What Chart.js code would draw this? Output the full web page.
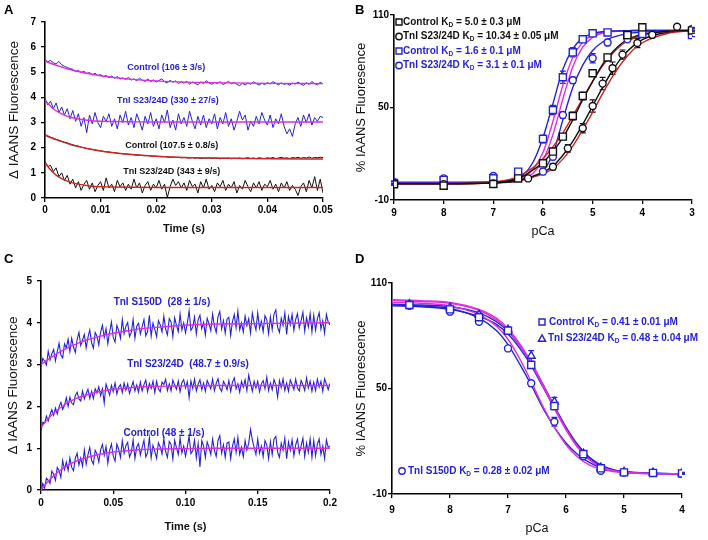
<!DOCTYPE html>
<html><head><meta charset="utf-8">
<script src="https://cdn.jsdelivr.net/npm/chart.js@4.4.1/dist/chart.umd.min.js"></script>
<style>
body{margin:0;background:#fff;width:708px;height:540px;position:relative;overflow:hidden}
.panel{position:absolute;width:354px;height:270px}
.letter{position:absolute;font:bold 13px "Liberation Sans",Arial,sans-serif;color:#000;line-height:1}
</style></head><body>
<div class="panel" style="left:0;top:0"><canvas id="cA" width="354" height="270"></canvas></div>
<div class="panel" style="left:354px;top:0"><canvas id="cB" width="354" height="270"></canvas></div>
<div class="panel" style="left:0;top:270px"><canvas id="cC" width="354" height="270"></canvas></div>
<div class="panel" style="left:354px;top:270px"><canvas id="cD" width="354" height="270"></canvas></div>
<div class="letter" style="left:4px;top:3px">A</div>
<div class="letter" style="left:355px;top:3px">B</div>
<div class="letter" style="left:4px;top:252px">C</div>
<div class="letter" style="left:355px;top:252px">D</div>
<script>
// ---------------- Panel A data ----------------
const tStepA = 0.0005;
const ctrlBlueA = [
5.50,5.42,5.47,5.38,5.33,5.43,5.30,5.24,5.19,5.15,
5.12,5.02,5.08,4.99,5.04,4.95,4.99,4.90,4.96,4.87,
4.91,4.82,4.88,4.79,4.85,4.76,4.83,4.73,4.78,4.71,
4.80,4.69,4.74,4.66,4.77,4.68,4.64,4.73,4.63,4.70,
4.61,4.67,4.74,4.62,4.58,4.68,4.60,4.66,4.55,4.63,
4.57,4.64,4.53,4.61,4.56,4.50,4.62,4.55,4.66,4.58,
4.52,4.60,4.55,4.63,4.51,4.57,4.64,4.54,4.59,4.52,
4.47,4.56,4.50,4.58,4.52,4.62,4.55,4.49,4.57,4.51,
4.59,4.53,4.63,4.56,4.50,4.58,4.52,4.55,4.49,4.57,
4.53,4.61,4.54,4.48,4.59,4.52,4.63,4.55,4.50,4.60,
4.54];
const s2324BlueA = [
3.95,3.70,3.85,3.55,3.78,3.40,3.62,3.30,3.55,3.15,
3.48,3.05,3.35,2.85,3.20,2.60,3.30,2.95,3.40,3.00,
2.80,3.25,3.05,3.35,2.85,3.15,2.75,3.30,3.00,3.45,
2.90,3.20,2.80,3.35,3.05,2.70,3.25,2.95,3.40,2.85,
3.15,2.75,3.30,3.00,3.50,2.80,3.10,2.70,3.35,2.95,
3.20,2.85,3.45,3.05,2.75,3.25,2.90,3.30,2.80,3.15,
2.95,3.35,2.75,3.20,2.95,3.40,2.85,3.15,2.70,3.05,
3.45,3.10,3.30,2.70,3.05,2.85,3.25,2.95,3.40,3.10,
2.90,3.30,2.80,3.15,2.95,3.35,2.85,2.55,2.75,2.45,
2.95,3.20,2.85,3.30,3.00,3.35,2.90,3.20,3.05,3.25,
3.20];
const ctrlBlackA = [
2.52,2.47,2.42,2.38,2.33,2.30,2.26,2.22,2.19,2.15,
2.12,2.08,2.06,2.02,2.00,1.97,1.95,1.93,1.91,1.89,
1.88,1.85,1.84,1.83,1.81,1.80,1.78,1.77,1.76,1.75,
1.74,1.73,1.72,1.70,1.71,1.69,1.68,1.69,1.67,1.66,
1.66,1.65,1.64,1.65,1.63,1.62,1.63,1.61,1.62,1.60,
1.61,1.60,1.59,1.61,1.58,1.60,1.57,1.59,1.58,1.60,
1.57,1.59,1.58,1.56,1.58,1.57,1.59,1.56,1.58,1.57,
1.59,1.56,1.58,1.60,1.57,1.59,1.56,1.60,1.58,1.57,
1.60,1.58,1.61,1.57,1.59,1.62,1.58,1.60,1.57,1.61,
1.59,1.62,1.58,1.61,1.59,1.63,1.58,1.61,1.60,1.62,
1.61];
const s2324BlackA = [
1.45,1.25,1.30,1.05,1.20,0.85,1.00,0.70,0.90,0.55,
0.75,0.40,0.65,0.30,0.55,0.70,0.35,0.60,0.25,0.50,
0.65,0.30,0.80,0.40,0.55,0.25,0.70,0.45,0.60,0.30,
0.55,0.35,0.75,0.40,0.60,0.20,0.50,0.65,0.30,0.55,
0.40,0.70,0.35,0.55,0.02,0.45,0.75,0.50,0.65,0.40,
0.60,0.30,0.70,0.45,0.55,0.20,0.65,0.40,0.75,0.35,
0.50,0.25,0.60,0.45,0.70,0.30,0.55,0.40,0.65,0.20,
0.50,0.35,0.70,0.45,0.25,0.60,0.40,0.65,0.30,0.55,
0.45,0.70,0.35,0.55,0.25,0.60,0.40,0.65,0.30,0.50,
0.35,0.10,0.45,0.60,0.25,0.70,0.40,0.85,0.30,0.75,
0.20];
const fitTimeA = [0,0.001,0.002,0.003,0.004,0.005,0.006,0.008,0.010,0.012,0.015,0.02,0.025,0.03,0.04,0.05];
const fitCtrlBlueA = [5.45,5.36,5.28,5.21,5.14,5.08,5.03,4.94,4.86,4.80,4.73,4.66,4.61,4.59,4.56,4.55];
const fitS2324BlueA = [3.90,3.65,3.47,3.35,3.25,3.19,3.14,3.08,3.05,3.04,3.03,3.02,3.02,3.02,3.02,3.02];
const fitCtrlBlackA = [2.50,2.40,2.32,2.24,2.17,2.10,2.05,1.95,1.87,1.81,1.74,1.66,1.61,1.59,1.56,1.55];
const fitS2324BlackA = [1.40,1.12,0.91,0.77,0.67,0.60,0.55,0.48,0.45,0.44,0.43,0.42,0.42,0.42,0.42,0.42];
const notesA = [
  {x:0.0218, y:5.2, text:'Control (106 ± 3/s)', color:'#2323d6'},
  {x:0.0221, y:3.86, text:'TnI S23/24D (330 ± 27/s)', color:'#2323d6'},
  {x:0.0228, y:2.07, text:'Control (107.5 ± 0.8/s)', color:'#111'},
  {x:0.0228, y:1.07, text:'TnI S23/24D (343 ± 9/s)', color:'#111'}
];

// ---------------- Panel B data ----------------
const pCaSqB = [9,8,7,6.5,6.0,5.8,5.6,5.4,5.2,5.0,4.7,4.3,4.0,3.0];
const ctrlBlackB = [0.2,-0.7,0.4,4,13.8,21.4,31.1,44.5,57.5,72.2,82.5,97,102,100];
const ctrlBlackErrB = [0.5,0.5,0.5,1,1.5,2,2,2.5,2.5,2,2,1.5,1,1];
const ctrlBlueB = [1,3,4.1,8.4,29.6,48.4,69.6,85.8,94.2,98.1,98.7,97,97.7,97];
const ctrlBlueErrB = [1,1,1,1.5,2.5,3,4,3,2,1.5,1,1,1,1];
const pCaCirBlackB = [9,8,7,6.3,5.8,5.5,5.2,5.0,4.8,4.6,4.4,4.1,3.8,3.3];
const s2324BlackB = [0.5,0.3,0.8,4,11.6,23.5,36.5,51,65.5,75.5,84.3,91.8,97.2,102.4];
const s2324BlackErrB = [0.5,0.5,0.5,1,2,2.5,3,4,4,4,3,3,2,1];
const pCaCirBlueB = [9,8,7,6.5,6.0,5.8,5.6,5.4,5.0,4.7,4.3,4.0,3.0];
const s2324BlueB = [1.5,4,5.6,7,8.4,18.1,45.1,67.7,81.9,92.2,94.2,98.1,101];
const s2324BlueErrB = [1,1,1,1,2,2,2,2,3,2,1.5,1,1];
const pCaFitB = [9,8,7,6.8,6.6,6.4,6.2,6.0,5.8,5.6,5.4,5.2,5.0,4.8,4.6,4.4,4.2,4.0,3.5,3.0];
const fitCtrlBlueB = [1,1,1.3,1.9,3.3,6.4,14.5,30.5,52.5,74.8,88.1,95,98,99.2,99.6,99.8,99.9,100,100,100];
const fitMagentaAB = [1,1,1.2,1.5,2.4,4.7,10.1,20.8,41,64.4,82.4,92.4,97,98.8,99.4,99.7,99.9,100,100,100];
const fitMagentaBB = [1,1,1.1,1.4,2,3.5,7.4,15.7,32.4,55.5,76.5,89.1,95.5,98.3,99.2,99.6,99.8,99.9,100,100];
const fitS2324BlueB = [1.5,1.5,1.8,2.2,2.8,3.5,5.2,9,20,42,63,77.5,87,92.5,95.5,97.3,98.4,99,99.7,100];
const fitCtrlBlackB = [0.5,0.5,1.2,1.8,3,5.5,9.5,14.5,21.5,30.5,42,55,67,78,86,92,95.5,97.5,99.5,100];
const fitCtrlRedB = [0.5,0.5,1.5,2.5,4,7,11,17,24.5,33.5,44.5,56,67,77,85,91,94.5,97,99.3,100];
const fitS2324BlackB = [0.5,0.5,1,1.4,2,3.5,5.5,8,12,19,28,39,51,63,74,83,89.5,94,98.8,100];
const fitS2324RedB = [0.5,0.5,1,1.3,1.8,3,4.8,7,10.5,16.5,25,35.5,47,59,70,79.5,87,92,98,99.8];
const legendB = [
  {sym:'rect', color:'#111', text:'Control K_D = 5.0 ± 0.3 μM', x:45, y:22},
  {sym:'circle', color:'#111', text:'TnI S23/24D K_D = 10.34 ± 0.05 μM', x:45, y:36.5},
  {sym:'rect', color:'#2323d6', text:'Control K_D = 1.6 ± 0.1 μM', x:45, y:51},
  {sym:'circle', color:'#2323d6', text:'TnI S23/24D K_D = 3.1 ± 0.1 μM', x:45, y:65.5}
];

// ---------------- Panel C data ----------------
const tStepC = 0.00125;
const s150dC = [
2.95,3.15,3.08,2.99,3.32,3.11,3.26,3.36,
3.09,3.31,3.51,3.23,3.16,3.50,3.40,3.61,
3.31,3.63,3.42,3.29,3.60,3.77,3.46,3.59,
3.72,3.40,3.65,3.83,3.52,3.39,3.77,3.68,
3.47,3.78,3.94,3.65,3.86,3.50,3.78,4.02,
3.65,3.54,3.94,3.82,3.63,4.08,3.74,3.92,
4.01,3.67,3.77,4.08,3.63,3.92,3.99,3.73,
3.91,4.08,3.69,3.79,4.18,3.68,3.99,3.84,
3.67,4.05,3.95,3.78,4.16,3.85,3.71,4.10,
4.02,3.67,4.12,3.94,3.79,4.21,3.83,4.00,
3.76,3.99,4.29,3.82,3.89,4.14,3.73,4.07,
4.18,3.86,4.01,3.71,4.11,3.98,3.81,4.21,
3.92,3.77,4.15,4.27,3.85,4.05,3.75,4.09,
4.13,3.70,4.03,4.20,3.88,4.28,3.83,4.00,
3.78,4.16,3.93,4.10,3.76,4.23,4.00,3.83,
4.24,3.87,4.04,3.79,4.17,4.07,3.74,4.14,
3.84,4.21,4.31,3.89,3.77,4.11,3.94,4.24,
3.72,4.15,3.95,4.20,3.82,4.08,4.22,3.88,
4.05,4.25,3.80,4.12,3.90,4.22,3.78,4.18,
3.82,4.10,4.24,3.85,4.05,3.75,4.20,4.02,
3.95];
const s2324C = [
1.42,1.62,1.60,1.77,1.65,1.80,1.92,1.79,
1.96,1.82,1.99,2.10,1.93,2.02,2.21,2.00,
2.22,2.08,2.04,2.26,2.34,2.18,2.13,2.37,
2.18,2.31,2.41,2.19,2.36,2.19,2.42,2.32,
2.47,2.26,2.42,2.08,2.53,2.40,2.27,2.50,
2.35,2.56,2.30,2.46,2.52,2.33,2.56,2.39,
2.54,2.31,2.46,2.59,2.37,2.51,2.34,2.58,
2.37,2.52,2.63,2.35,2.55,2.43,2.60,2.33,
2.60,2.42,2.35,2.58,2.52,2.65,2.38,2.54,
2.37,2.63,2.51,2.41,2.61,2.35,2.57,2.64,
2.44,2.59,2.21,2.61,2.43,2.65,2.37,2.53,
2.64,2.40,2.56,2.36,2.62,2.52,2.42,2.65,
2.38,2.55,2.66,2.44,2.36,2.60,2.52,2.40,
2.62,2.36,2.58,2.68,2.42,2.54,2.34,2.60,
2.46,2.64,2.38,2.75,2.55,2.36,2.60,2.44,
2.60,2.35,2.54,2.62,2.42,2.70,2.38,2.56,
2.40,2.64,2.52,2.22,2.62,2.45,2.66,2.38,
2.56,2.36,2.63,2.53,2.40,2.65,2.44,2.37,
2.62,2.52,2.38,2.68,2.44,2.60,2.36,2.58,
2.38,2.65,2.46,2.60,2.36,2.66,2.54,2.40,
2.55];
const ctrlC = [
-0.05,0.16,0.05,0.28,0.23,0.16,0.45,0.38,
0.23,0.54,0.47,0.30,0.71,0.49,0.67,0.47,
0.77,0.54,0.46,0.76,0.88,0.60,0.77,0.57,
0.96,0.62,0.84,1.02,0.71,0.62,0.95,0.86,
0.67,0.96,1.09,0.83,1.04,0.64,0.95,1.10,
0.81,0.69,1.10,0.97,0.78,1.18,0.88,1.06,
1.14,0.79,0.90,1.20,0.75,1.03,1.11,0.84,
1.02,1.19,0.79,0.89,1.25,0.77,1.07,0.92,
0.76,1.13,1.03,0.86,1.23,0.92,0.78,1.16,
1.09,0.74,1.19,1.01,0.85,1.25,0.89,1.05,
0.81,1.04,1.29,0.87,0.94,1.19,0.77,1.11,
0.55,1.18,1.05,0.78,1.15,1.02,0.85,1.22,
0.95,0.80,1.18,1.30,0.88,1.08,0.78,1.12,
1.15,0.75,1.05,1.22,0.90,1.26,0.85,1.02,
0.80,1.18,0.95,1.12,1.45,1.20,1.02,0.85,
1.22,0.88,1.05,0.80,1.18,1.08,0.75,1.15,
0.85,1.22,1.28,0.90,0.78,1.12,0.95,1.24,
0.75,1.15,0.95,1.20,0.82,1.08,1.22,0.88,
1.05,1.24,0.80,1.12,0.90,1.22,0.78,1.18,
0.82,1.10,1.22,0.85,1.05,0.75,1.20,1.02,
1.05];
const fitTimeC = [0,0.005,0.01,0.015,0.02,0.025,0.03,0.04,0.05,0.06,0.07,0.08,0.1,0.12,0.15,0.2];
const fitS150dC = [3.00,3.13,3.24,3.34,3.43,3.50,3.57,3.67,3.75,3.81,3.86,3.89,3.94,3.97,3.98,4.00];
const fitS2324C = [1.50,1.71,1.88,2.01,2.12,2.20,2.26,2.35,2.41,2.44,2.47,2.48,2.49,2.50,2.50,2.50];
const fitCtrlC = [0,0.21,0.38,0.51,0.62,0.70,0.76,0.85,0.91,0.94,0.97,0.98,0.99,1.0,1.0,1.0];
const notesC = [
  {x:0.0837, y:4.48, text:'TnI S150D  (28 ± 1/s)', color:'#2323d6'},
  {x:0.1017, y:3.02, text:'TnI S23/24D  (48.7 ± 0.9/s)', color:'#2323d6'},
  {x:0.0851, y:1.36, text:'Control (48 ± 1/s)', color:'#2323d6'}
];

// ---------------- Panel D data ----------------
const pCaD = [8.7,8.0,7.5,7.0,6.6,6.2,5.7,5.4,5.0,4.5,4.0];
const ctrlD = [97.5,95,90.5,82.9,63.4,40,12.7,4.6,2.3,2.0,1.7];
const ctrlErrD = [1,1.5,1.5,1.5,2,2,1,1,0.5,0.5,0.5];
const s2324D = [98,96,92,83.5,68.5,42.5,13,5,2.6,2.2,1.8];
const s2324ErrD = [1,1,1.5,1.5,3,2.5,1,1,0.5,0.5,0.5];
const s150dD = [97,93.7,88,72.8,53,31.1,11.5,3.2,2.2,2.0,1.7];
const s150dErrD = [1,1,1.5,1,1.5,2.5,1,1,0.5,0.5,0.5];
const pCaFitD = [9,8.5,8,7.5,7.2,7.0,6.8,6.6,6.4,6.2,6.0,5.8,5.6,5.4,5.2,5.0,4.5,4.0];
const fitS150dD = [97.5,97,95.5,90,83,75,64,52,39,28,19,12.5,8,5,3.5,2.5,1.8,1.5];
const fitMagCirD = [99,98.5,97,92,85.5,78,67,54,40,28,18,11,6.5,4,2.8,2.2,1.6,1.5];
const fitCtrlD = [97,96.5,95,91,86.5,81,73,63,51,39,27.5,18,11,6.5,4,2.8,1.8,1.5];
const fitS2324D = [98,97.5,96.5,93,88,82.5,74.5,64.5,52.5,40,28,18,10.5,6,3.7,2.5,1.7,1.5];
const fitMagSqD = [100,99.5,98.5,94.5,89,83,74.5,64,51.5,38.5,26.5,16.5,9.5,5.5,3.3,2.3,1.6,1.5];
const fitMagSq2D = [100.5,100,99,95,90,84,75.5,65,52.5,39.5,27,17,9.8,5.6,3.4,2.4,1.6,1.5];
const legendD = [
  {sym:'rect', color:'#2323d6', text:'Control K_D = 0.41 ± 0.01 μM', x:188, y:52, gap:7},
  {sym:'triangle', color:'#2323d6', text:'TnI S23/24D K_D = 0.48 ± 0.04 μM', x:188, y:68.5, gap:6},
  {sym:'circle', color:'#2323d6', text:'TnI S150D K_D = 0.28 ± 0.02 μM', x:48, y:201, gap:6}
];

// ---------------- helpers ----------------
const FONT = '"Liberation Sans", Arial, Helvetica, sans-serif';
const BLUE = '#2323d6', MAG = '#e02ce0', RED = '#d02424', BLACK = '#111';
const pts = (xs, ys) => ys.map((y, i) => ({x: xs[i], y}));
const grid = (step, ys) => ys.map((y, i) => ({x: i * step, y}));

function drawSymbol(ctx, sym, x, y, color) {
  ctx.save(); ctx.strokeStyle = color; ctx.lineWidth = 1.4; ctx.fillStyle = '#fff';
  ctx.beginPath();
  if (sym === 'rect') ctx.rect(x - 3, y - 3, 6, 6);
  else if (sym === 'circle') ctx.arc(x, y, 3.2, 0, Math.PI * 2);
  else { ctx.moveTo(x, y - 3.6); ctx.lineTo(x + 3.6, y + 2.8); ctx.lineTo(x - 3.6, y + 2.8); ctx.closePath(); }
  ctx.fill(); ctx.stroke(); ctx.restore();
}
function drawRich(ctx, x, y, text, size, color) {
  const parts = text.split('_D');
  let cx = x;
  ctx.save(); ctx.fillStyle = color; ctx.textBaseline = 'middle'; ctx.textAlign = 'left';
  parts.forEach((p, i) => {
    ctx.font = 'bold ' + size + 'px ' + FONT;
    ctx.fillText(p, cx, y); cx += ctx.measureText(p).width;
    if (i < parts.length - 1) {
      ctx.font = 'bold ' + (size * 0.65) + 'px ' + FONT;
      ctx.fillText('D', cx, y + size * 0.3); cx += ctx.measureText('D').width;
    }
  });
  ctx.restore();
}
const notesPlugin = (notes, size) => ({
  id: 'notes',
  afterDatasetsDraw(chart) {
    const {ctx, scales: {x, y}} = chart;
    ctx.save(); ctx.font = 'bold ' + size + 'px ' + FONT; ctx.textAlign = 'center'; ctx.textBaseline = 'middle';
    notes.forEach(n => { ctx.fillStyle = n.color; ctx.fillText(n.text, x.getPixelForValue(n.x), y.getPixelForValue(n.y)); });
    ctx.restore();
  }
});
const legendPlugin = (items, size) => ({
  id: 'legendText',
  afterDraw(chart) {
    const ctx = chart.ctx;
    items.forEach(it => {
      drawSymbol(ctx, it.sym, it.x, it.y, it.color);
      drawRich(ctx, it.x + (it.gap || 4), it.y, it.text, size, it.color);
    });
  }
});
const errorPlugin = {
  id: 'errBars',
  beforeDatasetsDraw(chart) {
    const {ctx} = chart; const ys = chart.scales.y;
    chart.data.datasets.forEach((ds, i) => {
      if (!ds.errors) return;
      const meta = chart.getDatasetMeta(i);
      ctx.save(); ctx.strokeStyle = ds.borderColor; ctx.lineWidth = 1.2;
      meta.data.forEach((el, j) => {
        const v = ds.data[j].y, e = ds.errors[j];
        const t = ys.getPixelForValue(v + e), b = ys.getPixelForValue(v - e);
        ctx.beginPath();
        ctx.moveTo(el.x, t); ctx.lineTo(el.x, b);
        ctx.moveTo(el.x - 3, t); ctx.lineTo(el.x + 3, t);
        ctx.moveTo(el.x - 3, b); ctx.lineTo(el.x + 3, b);
        ctx.stroke();
      });
      ctx.restore();
    });
  }
};

function yAxis(o) {
  return {
    type: 'linear', position: 'left', min: o.min, max: o.max,
    ticks: {stepSize: o.step, padding: o.tickPad, color: '#000', autoSkip: false,
      font: {family: FONT, size: 10, weight: 'bold'}, callback: o.cb},
    grid: {display: true, drawOnChartArea: false, drawTicks: true, tickLength: 4, color: '#000', lineWidth: 1.3},
    border: {display: true, color: '#000', width: 1.6},
    title: {display: true, text: o.title, color: '#111', font: {family: FONT, size: o.tSize, weight: o.tWeight},
      padding: {top: o.tPad, bottom: 0}},
    afterFit: s => { s.width = o.width; }
  };
}
function xAxis(o) {
  return {
    type: 'linear', position: 'bottom', min: o.min, max: o.max, reverse: !!o.reverse,
    ticks: {stepSize: o.step, padding: o.tickPad, color: '#000', autoSkip: false, maxRotation: 0,
      font: {family: FONT, size: 10, weight: 'bold'}, callback: o.cb},
    grid: {display: true, drawOnChartArea: false, drawTicks: true, tickLength: 4, color: '#000', lineWidth: 1.3},
    border: {display: true, color: '#000', width: 1.6},
    title: {display: true, text: o.title, color: '#111', font: {family: FONT, size: o.tSize, weight: o.tWeight},
      padding: {top: 0, bottom: o.tPad}},
    afterFit: s => { s.height = o.height; }
  };
}
function baseOptions(pad, scales, extra) {
  return Object.assign({
    responsive: false, animation: false, events: [],
    layout: {padding: pad},
    plugins: {legend: {display: false}, tooltip: {enabled: false}},
    scales
  }, extra || {});
}
const trace = (data, color, w) => ({data, showLine: true, borderColor: color, borderWidth: w || 1, pointRadius: 0, tension: 0, order: 2});
const fit = (data, color, w) => ({data, showLine: true, borderColor: color, borderWidth: w || 1.4, pointRadius: 0,
  cubicInterpolationMode: 'monotone', order: 1});
const marks = (data, errors, color, style, r) => ({data, errors, showLine: false, borderColor: color, backgroundColor: '#fff',
  pointStyle: style, pointRadius: r, borderWidth: 1.4, order: 0});

// ---------------- Chart A ----------------
new Chart(document.getElementById('cA'), {
  type: 'scatter',
  data: {datasets: [
    fit(pts(fitTimeA, fitCtrlBlueA), MAG), fit(pts(fitTimeA, fitS2324BlueA), MAG),
    fit(pts(fitTimeA, fitCtrlBlackA), RED), fit(pts(fitTimeA, fitS2324BlackA), RED),
    trace(grid(tStepA, ctrlBlueA), BLUE), trace(grid(tStepA, s2324BlueA), BLUE),
    trace(grid(tStepA, ctrlBlackA), BLACK), trace(grid(tStepA, s2324BlackA), BLACK)
  ]},
  options: baseOptions({left: 0, right: 31, top: 22, bottom: 0}, {
    x: xAxis({min: 0, max: 0.05, step: 0.01, tickPad: 2, title: 'Time (s)', tSize: 11, tWeight: 'bold', tPad: 34, height: 72,
      cb: v => v === 0 ? '0' : v.toFixed(2)}),
    y: yAxis({min: 0, max: 7, step: 1, tickPad: 5, title: 'Δ IAANS Fluorescence', tSize: 13.5, tWeight: 'normal', tPad: 6, width: 45,
      cb: v => String(Math.round(v))})
  }),
  plugins: [notesPlugin(notesA, 9)]
});

// ---------------- Chart B ----------------
new Chart(document.getElementById('cB'), {
  type: 'scatter',
  data: {datasets: [
    marks(pts(pCaSqB, ctrlBlackB), ctrlBlackErrB, BLACK, 'rect', 5),
    marks(pts(pCaCirBlackB, s2324BlackB), s2324BlackErrB, BLACK, 'circle', 3.5),
    marks(pts(pCaSqB, ctrlBlueB), ctrlBlueErrB, BLUE, 'rect', 5),
    marks(pts(pCaCirBlueB, s2324BlueB), s2324BlueErrB, BLUE, 'circle', 3.5),
    fit(pts(pCaFitB, fitCtrlBlackB), BLACK), fit(pts(pCaFitB, fitCtrlRedB), RED),
    fit(pts(pCaFitB, fitS2324BlackB), BLACK), fit(pts(pCaFitB, fitS2324RedB), RED),
    fit(pts(pCaFitB, fitCtrlBlueB), BLUE), fit(pts(pCaFitB, fitMagentaAB), MAG),
    fit(pts(pCaFitB, fitMagentaBB), MAG), fit(pts(pCaFitB, fitS2324BlueB), BLUE)
  ]},
  options: baseOptions({left: 0, right: 16, top: 15, bottom: 0}, {
    x: xAxis({min: 3, max: 9, step: 1, reverse: true, tickPad: 3, title: 'pCa', tSize: 12.5, tWeight: 'normal', tPad: 31, height: 70,
      cb: v => String(Math.round(v))}),
    y: yAxis({min: -10, max: 110, step: 60, tickPad: 1, title: '% IAANS Fluoresence', tSize: 13, tWeight: 'normal', tPad: 0, width: 40,
      cb: v => String(Math.round(v))})
  }),
  plugins: [errorPlugin, legendPlugin(legendB, 10)]
});

// ---------------- Chart C ----------------
new Chart(document.getElementById('cC'), {
  type: 'scatter',
  data: {datasets: [
    fit(pts(fitTimeC, fitS150dC), MAG), fit(pts(fitTimeC, fitS2324C), MAG), fit(pts(fitTimeC, fitCtrlC), MAG),
    trace(grid(tStepC, s150dC), BLUE, 1.1), trace(grid(tStepC, s2324C), BLUE, 1.1), trace(grid(tStepC, ctrlC), BLUE, 1.1)
  ]},
  options: baseOptions({left: 0, right: 24, top: 10, bottom: 0}, {
    x: xAxis({min: 0, max: 0.2, step: 0.05, tickPad: 3, title: 'Time (s)', tSize: 11, tWeight: 'bold', tPad: 6, height: 50,
      cb: v => v === 0 ? '0' : (v > 0.199 ? '0.2' : v.toFixed(2))}),
    y: yAxis({min: 0, max: 5, step: 1, tickPad: 5, title: 'Δ IAANS Fluorescence', tSize: 13.5, tWeight: 'normal', tPad: 5, width: 41,
      cb: v => String(Math.round(v))})
  }),
  plugins: [notesPlugin(notesC, 10)]
});

// ---------------- Chart D ----------------
new Chart(document.getElementById('cD'), {
  type: 'scatter',
  data: {datasets: [
    marks(pts(pCaD, ctrlD), ctrlErrD, BLUE, 'rect', 5),
    marks(pts(pCaD, s2324D), s2324ErrD, BLUE, 'triangle', 4.5),
    marks(pts(pCaD, s150dD), s150dErrD, BLUE, 'circle', 3.5),
    fit(pts(pCaFitD, fitMagSqD), MAG), fit(pts(pCaFitD, fitMagSq2D), MAG), fit(pts(pCaFitD, fitMagCirD), MAG),
    fit(pts(pCaFitD, fitCtrlD), BLUE), fit(pts(pCaFitD, fitS2324D), BLUE), fit(pts(pCaFitD, fitS150dD), BLUE)
  ]},
  options: baseOptions({left: 0, right: 26, top: 13, bottom: 0}, {
    x: xAxis({min: 4, max: 9, step: 1, reverse: true, tickPad: 6, title: 'pCa', tSize: 12.5, tWeight: 'normal', tPad: 4, height: 46,
      cb: v => String(Math.round(v))}),
    y: yAxis({min: -10, max: 110, step: 60, tickPad: 1, title: '% IAANS Fluorescence', tSize: 13, tWeight: 'normal', tPad: 0, width: 38,
      cb: v => String(Math.round(v))})
  }),
  plugins: [errorPlugin, legendPlugin(legendD, 10)]
});
</script>
</body></html>
